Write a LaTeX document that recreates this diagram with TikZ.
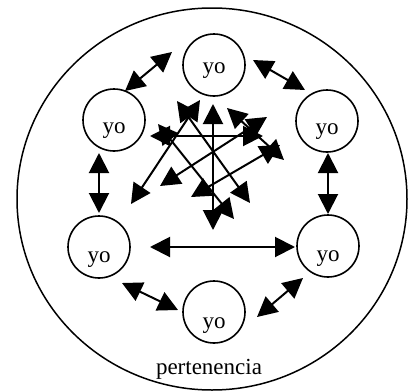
\documentclass[tikz,border=0pt]{standalone}
\usepackage{fontspec}
\setmainfont{Liberation Serif}
\usetikzlibrary{arrows.meta}
\tikzset{
  yonode/.style={circle, draw, line width=1.6pt, minimum size=62pt, inner sep=0pt,
    text depth=0pt, text height=#1, font=\fontsize{23}{27}\selectfont},
  yonode/.default=26pt,
  dbl/.style={line width=2pt,
    {Triangle[length=20pt,width=20pt]}-{Triangle[length=20pt,width=20pt]}},
  group/.style={line width=1.5pt}
}
\begin{document}
\begin{tikzpicture}[x=1pt, y=-1pt]
\useasboundingbox (0,0) rectangle (412,391);

% the group that holds everyone
\draw[group] (212,199) ellipse [x radius=195, y radius=191];

% the six selves
\node[yonode=16pt] (t)  at (214,65)  {yo};
\node[yonode]      (ul) at (114,120) {yo};
\node[yonode]      (ur) at (327,121) {yo};
\node[yonode=30pt] (ll) at (99,247)  {yo};
\node[yonode=30pt] (lr) at (328,246) {yo};
\node[yonode=32pt] (b)  at (214,312) {yo};

\node[anchor=base, font=\fontsize{23}{27}\selectfont] (lbl) at (209,374) {pertenencia};

% links between neighbouring selves
\draw[dbl] ([shift={(11,-29)}]ul.center) -- ([shift={(-42,-13)}]t.center);
\draw[dbl] ([shift={(39,-5)}]t.center)   -- ([shift={(-22,-31)}]ur.center);
\draw[dbl] ([shift={(-15,33)}]ul.center) -- ([shift={(0,-34)}]ll.center);
\draw[dbl] ([shift={(1,32)}]ur.center)   -- ([shift={(0,-32)}]lr.center);
\draw[dbl] ([shift={(51,0)}]ll.center)   -- ([shift={(-33,1)}]lr.center);
\draw[dbl] ([shift={(23,36)}]ll.center)  -- ([shift={(-36,-2)}]b.center);
\draw[dbl] ([shift={(43,5)}]b.center)    -- ([shift={(-25,32)}]lr.center);

% the tangle in the middle
\coordinate (a1) at (213,104); \coordinate (a2) at (213,230);
\coordinate (b1) at (150,136); \coordinate (b2) at (263,136);
\coordinate (c1) at (177,101); \coordinate (c2) at (250,203);
\coordinate (d1) at (200,100); \coordinate (d2) at (131,204);
\coordinate (e1) at (267,117); \coordinate (e2) at (160,186);
\coordinate (f1) at (280,145); \coordinate (f2) at (191,197);
\coordinate (g1) at (227,108); \coordinate (g2) at (284,160);
\coordinate (h1) at (158,124); \coordinate (h2) at (234,219);
\foreach \p in {a,b,c,d,e,f,g,h}
  \draw[dbl] (\p1) -- (\p2);
\end{tikzpicture}
\end{document}
